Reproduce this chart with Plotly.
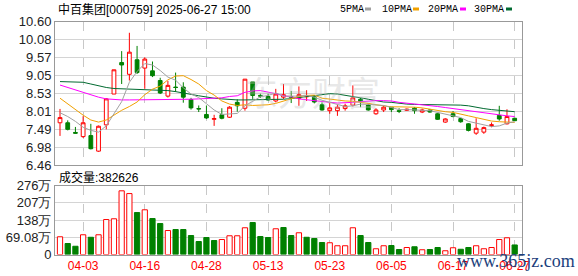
import plotly.graph_objects as go

dates = ["03-31","04-01","04-02","04-03","04-07","04-08","04-09","04-10","04-11","04-14",
         "04-15","04-16","04-17","04-18","04-21","04-22","04-23","04-24","04-25","04-28",
         "04-29","04-30","05-06","05-07","05-08","05-09","05-12","05-13","05-14","05-15",
         "05-16","05-19","05-20","05-21","05-22","05-23","05-26","05-27","05-28","05-29",
         "05-30","06-03","06-04","06-05","06-06","06-09","06-10","06-11","06-12","06-13",
         "06-16","06-17","06-18","06-19","06-20","06-23","06-24","06-25","06-26","06-27"]

opens = [7.68,7.68,7.40,7.28,7.31,6.86,7.62,8.51,9.42,9.08,
         9.50,9.26,9.18,8.90,8.45,8.71,8.71,8.35,8.09,7.92,
         7.78,7.91,7.84,8.27,8.10,8.86,8.47,8.44,8.31,8.42,
         8.43,8.38,8.43,8.44,8.20,8.03,8.03,8.09,8.19,8.36,
         8.19,7.94,8.05,8.13,8.03,8.04,8.10,7.99,8.05,7.94,
         7.70,7.94,7.80,7.65,7.38,7.41,7.60,7.89,7.65,7.81]
highs = [8.08,7.75,7.56,7.87,7.65,7.60,8.39,9.21,9.75,10.28,
         9.90,9.57,9.45,8.98,8.89,9.13,8.85,8.40,8.18,8.18,
         7.91,8.10,8.16,8.36,8.94,8.86,8.52,8.52,8.66,8.80,
         8.60,8.73,8.62,8.48,8.27,8.26,8.20,8.23,8.76,8.40,
         8.23,8.10,8.17,8.13,8.10,8.09,8.13,8.09,8.08,7.96,
         7.81,8.02,7.81,7.67,7.81,7.57,7.69,8.17,8.07,7.82]
lows = [7.30,7.46,7.37,7.24,6.91,6.84,7.49,8.51,8.80,8.90,
        9.09,8.66,9.00,8.51,8.41,8.57,8.26,8.06,7.99,7.79,
        7.59,7.78,7.82,8.00,8.03,8.34,8.40,8.32,8.27,8.37,
        8.25,8.17,8.31,8.24,8.03,7.94,7.88,8.03,8.15,8.13,
        8.03,7.91,7.99,7.99,7.96,8.02,7.94,7.96,7.97,7.76,
        7.68,7.84,7.68,7.43,7.33,7.36,7.55,7.74,7.63,7.73]
closes = [7.83,7.49,7.38,7.68,6.93,7.58,8.37,9.21,9.35,9.72,
          9.13,9.52,9.04,8.54,8.76,8.70,8.42,8.11,8.08,7.82,
          7.80,7.81,8.13,8.17,8.94,8.47,8.45,8.34,8.51,8.49,
          8.41,8.49,8.44,8.28,8.05,8.11,8.13,8.17,8.40,8.29,
          8.05,8.05,8.13,8.06,8.01,8.07,8.03,8.05,7.99,7.78,
          7.79,7.86,7.71,7.46,7.52,7.54,7.62,7.79,7.86,7.74]

# volume in 万
volumes = [71,44,33,79,69,79,140,143,255,244,
           168,179,144,124,96,100,100,76,52,68,
           56,60,75,75,107,128,72,68,103,108,
           76,87,69,64,48,47,35,35,107,76,
           48,23,35,36,20,28,31,19,20,28,
           15,27,21,28,35,23,28,60,67,38.26]

ma5 = [7.97,7.86,7.72,7.55,7.46,7.41,7.59,7.95,8.29,8.85,
       9.16,9.39,9.35,9.19,9.00,8.91,8.69,8.51,8.41,8.23,
       8.05,7.92,7.93,7.95,8.17,8.30,8.43,8.47,8.54,8.45,
       8.44,8.45,8.47,8.42,8.33,8.27,8.20,8.15,8.17,8.22,
       8.21,8.19,8.18,8.12,8.06,8.06,8.06,8.04,8.03,7.98,
       7.93,7.89,7.83,7.72,7.67,7.62,7.57,7.59,7.67,7.71]
ma10 = [8.39,8.22,8.06,7.90,7.76,7.70,7.76,7.90,8.04,8.15,
        8.28,8.49,8.65,8.74,8.92,9.03,9.04,8.93,8.80,8.61,
        8.48,8.31,8.22,8.18,8.20,8.18,8.18,8.20,8.24,8.31,
        8.37,8.44,8.47,8.48,8.39,8.36,8.33,8.31,8.30,8.28,
        8.24,8.20,8.17,8.14,8.14,8.14,8.13,8.11,8.07,8.02,
        8.00,7.98,7.94,7.88,7.83,7.77,7.73,7.71,7.69,7.69]
ma20 = [8.77,8.70,8.62,8.54,8.47,8.42,8.37,8.35,8.34,8.34,
        8.34,8.34,8.34,8.34,8.35,8.35,8.36,8.36,8.37,8.38,
        8.38,8.40,8.44,8.46,8.56,8.60,8.61,8.57,8.52,8.46,
        8.43,8.37,8.34,8.33,8.30,8.27,8.25,8.25,8.27,8.29,
        8.31,8.32,8.32,8.31,8.27,8.25,8.23,8.21,8.19,8.15,
        8.12,8.09,8.05,8.01,7.98,7.95,7.93,7.91,7.88,7.86]
ma30 = [8.87,8.87,8.87,8.85,8.80,8.74,8.70,8.67,8.66,8.65,
        8.64,8.64,8.63,8.63,8.61,8.58,8.55,8.50,8.46,8.42,
        8.39,8.37,8.35,8.34,8.34,8.34,8.34,8.35,8.35,8.36,
        8.38,8.41,8.45,8.47,8.50,8.52,8.51,8.48,8.45,8.40,
        8.36,8.32,8.28,8.27,8.24,8.22,8.21,8.21,8.20,8.20,
        8.20,8.20,8.19,8.17,8.12,8.09,8.06,8.04,8.02,8.00]

price_ticks = [6.46, 6.9775, 7.495, 8.0125, 8.53, 9.0475, 9.565, 10.0825, 10.60]
price_labels = ["6.46", "6.98", "7.49", "8.01", "8.53", "9.05", "9.57", "10.08", "10.60"]
vol_ticks = [0, 69.08, 138.16, 207.24, 276.32]
vol_labels = ["0", "69.08万", "138万", "207万", "276万"]
date_ticks = ["04-03", "04-16", "04-28", "05-13", "05-23", "06-05", "06-17", "06-27"]
title_text = "中百集团[000759] 2025-06-27 15:00"
vol_title = "成交量:382626"
ma_names = ["5PMA", "10PMA", "20PMA", "30PMA"]

RED = "#ff0000"
GREEN = "#008000"
MA_COLORS = ["#a0a0a0", "#f0a000", "#ff00ff", "#006a30"]

W, H = 578, 276
L, R = 55, 56

def px_x(px):
    return (px - L) / (W - L - R)

def px_y(py):
    return 1 - py / H

fig = go.Figure()

for vals, col in zip([ma30, ma20, ma10, ma5], MA_COLORS[::-1]):
    fig.add_trace(go.Scatter(x=dates, y=vals, mode="lines",
                             line=dict(color=col, width=1),
                             xaxis="x", yaxis="y", hoverinfo="skip"))

fig.add_trace(go.Candlestick(
    x=dates, open=opens, high=highs, low=lows, close=closes,
    increasing=dict(line=dict(color=RED, width=1), fillcolor="#ffffff"),
    decreasing=dict(line=dict(color=GREEN, width=1), fillcolor=GREEN),
    whiskerwidth=0, xaxis="x", yaxis="y"))

vol_up = [True] + [closes[i] >= closes[i - 1] for i in range(1, len(closes))]
fig.add_trace(go.Bar(
    x=dates, y=volumes, width=0.68,
    marker=dict(color=["#ffffff" if u else GREEN for u in vol_up],
                line=dict(color=[RED if u else GREEN for u in vol_up], width=1)),
    xaxis="x2", yaxis="y2"))

price_dom = [px_y(165), px_y(21.7)]
vol_dom = [px_y(254.5), px_y(185.5)]

common_x = dict(type="category", categoryorder="array", categoryarray=dates,
                range=[-0.65, 59.95], tickmode="array", tickvals=date_ticks,
                showgrid=True, gridcolor="#c8c8c8", griddash="dash", gridwidth=1,
                showline=True, mirror=True, linecolor="#999999", linewidth=1,
                zeroline=False, ticks="", automargin=False, fixedrange=True)
common_y = dict(showgrid=True, gridcolor="#d4d4d4", gridwidth=1,
                showline=True, mirror=True, linecolor="#999999", linewidth=1,
                zeroline=False, ticks="", automargin=False, tickmode="array",
                tickfont=dict(family="Liberation Sans, Arial", size=13, color="#222222"))

fig.update_layout(
    width=W, height=H,
    margin=dict(l=L, r=R, t=0, b=0),
    paper_bgcolor="#ffffff", plot_bgcolor="#ffffff",
    showlegend=False,
    bargap=0.3,
    xaxis=dict(common_x, domain=[0, 1], anchor="y", showticklabels=False,
               rangeslider=dict(visible=False)),
    xaxis2=dict(common_x, domain=[0, 1], anchor="y2", showticklabels=True,
                tickfont=dict(family="Liberation Sans, Arial", size=12, color=RED)),
    yaxis=dict(common_y, domain=price_dom, range=[6.46, 10.60],
               tickvals=price_ticks, ticktext=price_labels),
    yaxis2=dict(common_y, domain=vol_dom, range=[0, 276.32],
                tickvals=vol_ticks, ticktext=vol_labels),
)

annotations = [
    dict(text=title_text, x=px_x(56), y=px_y(9), xref="paper", yref="paper",
         xanchor="left", yanchor="middle", showarrow=False,
         font=dict(family="Liberation Sans, Noto Sans CJK SC", size=12, color="#000000")),
    dict(text=vol_title, x=px_x(57), y=px_y(177), xref="paper", yref="paper",
         xanchor="left", yanchor="middle", showarrow=False,
         font=dict(family="Liberation Sans, Noto Sans CJK SC", size=12, color="#000000")),
    dict(text="东方财富", x=px_x(312), y=px_y(92), xref="paper", yref="paper",
         xanchor="center", yanchor="middle", showarrow=False,
         font=dict(family="Noto Sans CJK SC", size=34, color="rgba(190,190,190,0.35)")),
    dict(text="www.365jz.com", x=px_x(516), y=px_y(261), xref="paper", yref="paper",
         xanchor="center", yanchor="middle", showarrow=False,
         font=dict(family="Liberation Serif", size=18, color="#1c3f7c")),
]
leg_text_x = [338, 380, 426, 472]
leg_dash_x = [365, 413, 460, 506]
shapes = []
for name, tx, dx, col in zip(ma_names, leg_text_x, leg_dash_x, MA_COLORS):
    annotations.append(dict(text=name, x=px_x(tx), y=px_y(9), xref="paper", yref="paper",
                            xanchor="left", yanchor="middle", showarrow=False,
                            font=dict(family="Liberation Mono", size=10, color="#000000")))
    shapes.append(dict(type="rect", xref="paper", yref="paper",
                       x0=px_x(dx), x1=px_x(dx + 6), y0=px_y(10.5), y1=px_y(7.5),
                       fillcolor=col, line=dict(width=0)))

fig.update_layout(annotations=annotations, shapes=shapes)

fig.write_html("out.html")
